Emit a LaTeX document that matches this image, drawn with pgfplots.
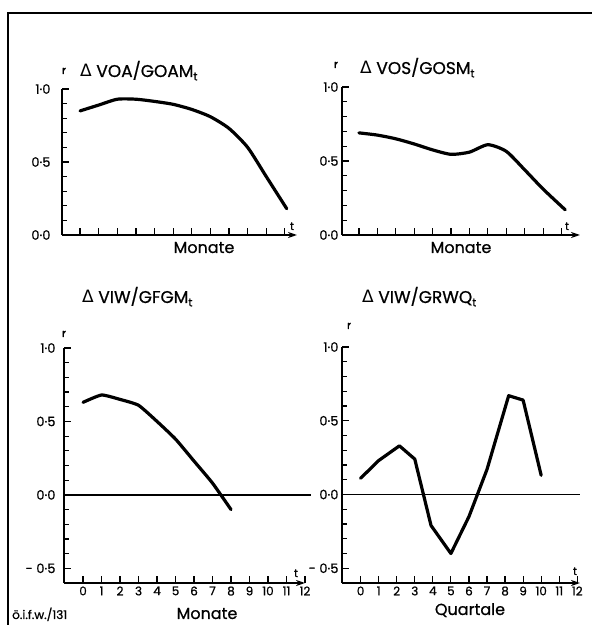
\documentclass[border=0pt]{standalone}
\usepackage{fontspec}
\setmainfont{Poppins}[FakeBold=0.8]
\newfontfamily\dejavu{DejaVu Sans}
\usepackage{pgfplots}
\pgfplotsset{compat=1.18}
\usetikzlibrary{arrows.meta}

% correlation coefficients r against lag t
\pgfplotstableread{
t r
0 0.85
1 0.89
2 0.93
3 0.93
4 0.915
5 0.895
6 0.86
7 0.81
8 0.73
9 0.60
10 0.40
11.1 0.18
}\tabVOA
\pgfplotstableread{
t r
0 0.69
1 0.675
2 0.65
3 0.615
4 0.575
5 0.545
6 0.56
7 0.61
8 0.565
9 0.44
10 0.31
11.2 0.17
}\tabVOS
\pgfplotstableread{
t r
0 0.63
1 0.68
2 0.65
3 0.61
4 0.50
5 0.38
6 0.23
7 0.08
8 -0.10
}\tabGFGM
\pgfplotstableread{
t r
0 0.11
1 0.23
2.15 0.33
3 0.24
3.9 -0.21
5 -0.40
6 -0.15
7 0.17
8.2 0.67
9 0.64
10 0.13
}\tabGRWQ

\newcommand\tk{\fontsize{13}{15}\selectfont}
\newcommand\ttl[1]{\fontsize{17}{20}\selectfont{\dejavu Δ} #1\raisebox{-0.35ex}{\fontsize{11}{12}\selectfont t}}

\pgfplotsset{
  panel/.style={
    scale only axis, clip=false,
    axis x line=bottom, axis y line*=left,
    axis line style={line width=1.4pt},
    x axis line style={-{Stealth[length=9pt,width=6pt]}},
    tick align=inside,
    major tick length=6.5pt, minor tick length=5pt,
    every tick/.style={black, line width=1.2pt},
    xtick={0,...,11}, xticklabels={},
    ytick={0,0.5,1}, yticklabels={0·0,0·5,1·0},
    minor y tick num=4,
    yticklabel style={font=\tk},
    xticklabel style={font=\fontsize{12}{14}\selectfont},
  },
  lower/.style={
    ymin=-0.6, ymax=1,
    ytick={-0.5,0,0.5,1}, yticklabels={- 0·5,0·0,0·5,1·0},
    xtick={0,...,12}, xticklabels={0,1,2,3,4,5,6,7,8,9,10,11,12},
  },
  curve/.style={black, line width=3.2pt, line join=round, line cap=round},
}

\begin{document}
\begin{tikzpicture}
\useasboundingbox (0pt,0pt) rectangle (592pt,625pt);
\draw[line width=2pt] (8pt,0pt) -- (8pt,612pt) -- (592pt,612pt);

\begin{axis}[panel, at={(62pt,390pt)}, anchor=south west,
  width=235pt, height=146pt, xmin=-0.97, xmax=11.65, ymin=0, ymax=1,
  yticklabel style={xshift=-8pt}]
\addplot[curve, smooth, tension=0.4] table[x=t,y=r] {\tabVOA};
\end{axis}

\begin{axis}[panel, at={(342pt,390pt)}, anchor=south west,
  width=238pt, height=148pt, xmin=-0.92, xmax=12, ymin=0, ymax=1,
  yticklabel style={xshift=0pt}]
\addplot[curve, smooth, tension=0.4] table[x=t,y=r] {\tabVOS};
\end{axis}

\begin{axis}[panel, lower, at={(64pt,42pt)}, anchor=south west,
  width=241pt, height=235pt, xmin=-1.03, xmax=12,
  yticklabel style={xshift=-5pt}]
\draw[line width=1.4pt] (axis cs:-1.03,0) -- (axis cs:12.3,0);
\addplot[curve, smooth, tension=0.3] table[x=t,y=r] {\tabGFGM};
\end{axis}

\begin{axis}[panel, lower, at={(342pt,42pt)}, anchor=south west,
  width=238pt, height=236pt, xmin=-1.03, xmax=12.15,
  yticklabel style={xshift=0pt}]
\draw[line width=1.4pt] (axis cs:-1.03,0) -- (axis cs:12.15,0);
\addplot[curve] table[x=t,y=r] {\tabGRWQ};
\end{axis}

% titles and labels
\node[anchor=base west, inner sep=0] at (80pt,548pt) {\ttl{VOA/GOAM}};
\node[anchor=base west, inner sep=0] at (360pt,551pt) {\ttl{VOS/GOSM}};
\node[anchor=base west, inner sep=0] at (82pt,322pt) {\ttl{VIW/GFGM}};
\node[anchor=base west, inner sep=0] at (362pt,322pt) {\ttl{VIW/GRWQ}};

\begin{scope}[every node/.style={anchor=base, inner sep=0, font=\fontsize{11}{12}\selectfont}]
\node at (64pt,551pt) {r};
\node at (336pt,557pt) {r};
\node at (64pt,288pt) {r};
\node at (349pt,296pt) {r};
\node at (292pt,395pt) {t};
\node at (567pt,395pt) {t};
\node at (296pt,48pt) {t};
\node at (575pt,50pt) {t};
\end{scope}

\begin{scope}[every node/.style={anchor=base, inner sep=0, font=\fontsize{16}{18}\selectfont}]
\node at (204pt,372pt) {Monate};
\node at (461pt,372pt) {Monate};
\node at (207pt,6pt) {Monate};
\node at (470pt,10pt) {Quartale};
\end{scope}

\node[anchor=base west, inner sep=0, font=\fontsize{12}{14}\selectfont] at (12pt,6pt) {ö.i.f.w./131};
\end{tikzpicture}
\end{document}
